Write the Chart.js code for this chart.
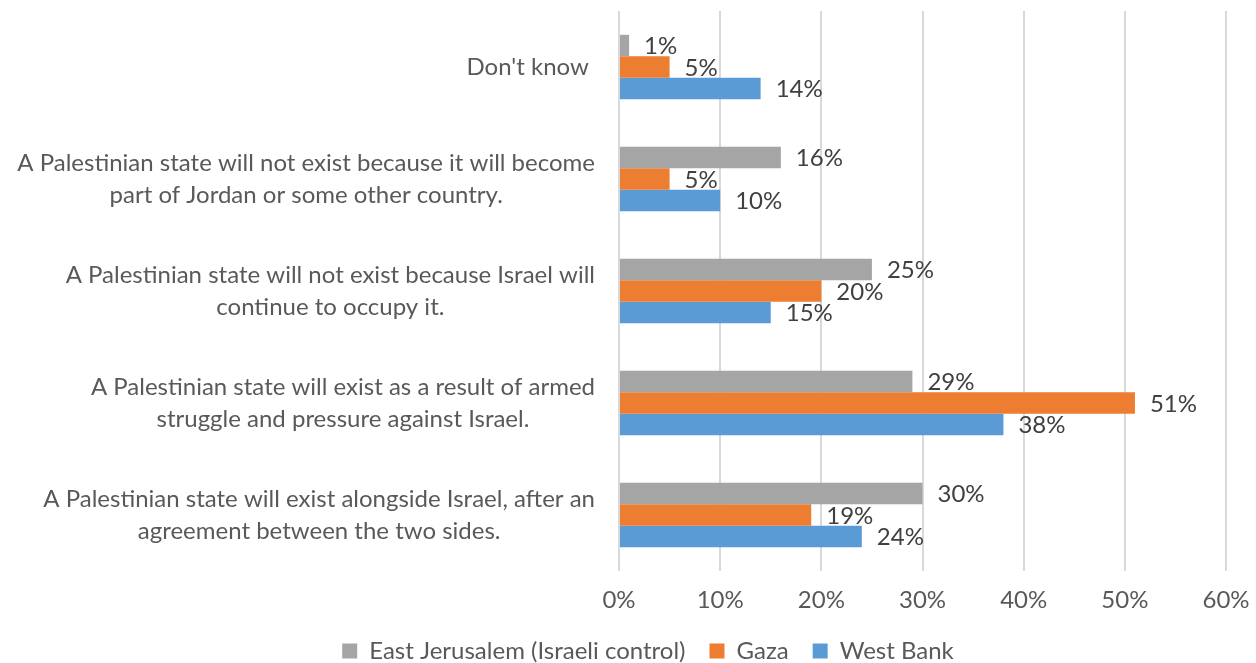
<!DOCTYPE html>
<html>
<head>
<meta charset="utf-8">
<script src="https://cdn.jsdelivr.net/npm/chart.js@4/dist/chart.umd.min.js"></script>
<style>
  html,body{margin:0;padding:0;background:#fff;}
  #wrap{width:1256px;height:663px;}
</style>
</head>
<body>
<div id="wrap"><canvas id="ch" width="1256" height="663"></canvas></div>
<script>
/* ---- data ---- */
const kategori = [
  ["Don't know "],
  ["A Palestinian state will not exist because it will become", "part of Jordan or some other country."],
  ["A Palestinian state will not exist because Israel will", "continue to occupy it."],
  ["A Palestinian state will exist as a result of armed", "struggle and pressure against Israel."],
  ["A Palestinian state will exist alongside Israel, after an", "agreement between the two sides."]
];
const eastJerusalem = [1, 16, 25, 29, 30];
const gaza          = [5, 5, 20, 51, 19];
const westBank      = [14, 10, 15, 38, 24];
const seriesNama = ['East Jerusalem (Israeli control)', 'Gaza', 'West Bank'];
const xTicks = [0, 10, 20, 30, 40, 50, 60];

const warna = {ej:'#A5A5A5', gz:'#ED7D31', wb:'#5B9BD5'};
const FONT = 'Lato, "Open Sans", sans-serif';
const UK = 24;
const teks = '#595959';

/* ---- label kategori: blok rata kanan, baris rata tengah ---- */
const labelKategori = {
  id:'labelKategori',
  afterDraw(chart){
    const {ctx, chartArea, scales:{y}} = chart;
    ctx.save();
    ctx.font = UK + 'px ' + FONT;
    ctx.fillStyle = teks;
    ctx.textBaseline = 'middle';
    ctx.textAlign = 'center';
    const kanan = chartArea.left - 24, lh = 32;
    kategori.forEach((baris, i) => {
      const cy = y.getPixelForValue(i);
      const w = Math.max(...baris.map(b => ctx.measureText(b).width));
      const cx = kanan - w/2;
      const y0 = cy - (baris.length - 1) * lh / 2;
      baris.forEach((b, j) => {
        const t = b.trimEnd();
        const geser = (b.length - t.length) ? ctx.measureText(' ').width/2 : 0;
        ctx.fillText(t, cx - geser, y0 + j*lh);
      });
    });
    ctx.restore();
  }
};

/* ---- label nilai di ujung batang ---- */
const labelNilai = {
  id:'labelNilai',
  afterDatasetsDraw(chart){
    const {ctx} = chart;
    ctx.save();
    ctx.font = UK + 'px ' + FONT;
    ctx.fillStyle = '#404040';
    ctx.textBaseline = 'middle';
    ctx.textAlign = 'left';
    chart.data.datasets.forEach((ds, di) => {
      chart.getDatasetMeta(di).data.forEach((el, i) => {
        ctx.fillText(ds.data[i] + '%', el.x + 15, el.y + 1);
      });
    });
    ctx.restore();
  }
};

/* ---- legenda sedikit digeser ke kanan, seperti aslinya ---- */
const geserLegenda = {
  id:'geserLegenda',
  afterLayout(chart){
    const lg = chart.legend;
    if(!lg) return;
    lg.left = 44; lg.right = 1252; lg.width = lg.right - lg.left;
  }
};

new Chart(document.getElementById('ch'), {
  type:'bar',
  data:{
    labels: kategori.map(k => k.join(' ')),
    datasets:[
      {label:seriesNama[0], data:eastJerusalem, backgroundColor:warna.ej},
      {label:seriesNama[1], data:gaza,          backgroundColor:warna.gz},
      {label:seriesNama[2], data:westBank,      backgroundColor:warna.wb}
    ]
  },
  options:{
    indexAxis:'y',
    responsive:false,
    animation:false,
    devicePixelRatio:1,
    datasets:{bar:{categoryPercentage:0.575, barPercentage:1}},
    layout:{padding:{left:30, right:30, top:11, bottom:0}},
    plugins:{
      tooltip:{enabled:false},
      legend:{
        position:'bottom',
        maxHeight:48,
        labels:{font:{family:FONT, size:UK}, color:teks, boxWidth:15, boxHeight:15, padding:24}
      }
    },
    scales:{
      x:{
        min:0, max:60,
        afterBuildTicks: ax => { ax.ticks = xTicks.map(v => ({value:v})); },
        afterFit: s => { s.height = 44; s.paddingRight = 0; },
        ticks:{callback:v => v + '%', font:{family:FONT, size:UK}, color:teks, padding:15},
        grid:{color:'#D9D9D9', lineWidth:2, drawTicks:false},
        border:{display:false}
      },
      y:{
        afterFit: s => { s.width = 589; },
        ticks:{display:false},
        grid:{display:false},
        border:{display:false}
      }
    }
  },
  plugins:[labelKategori, labelNilai, geserLegenda]
});
</script>
</body>
</html>
